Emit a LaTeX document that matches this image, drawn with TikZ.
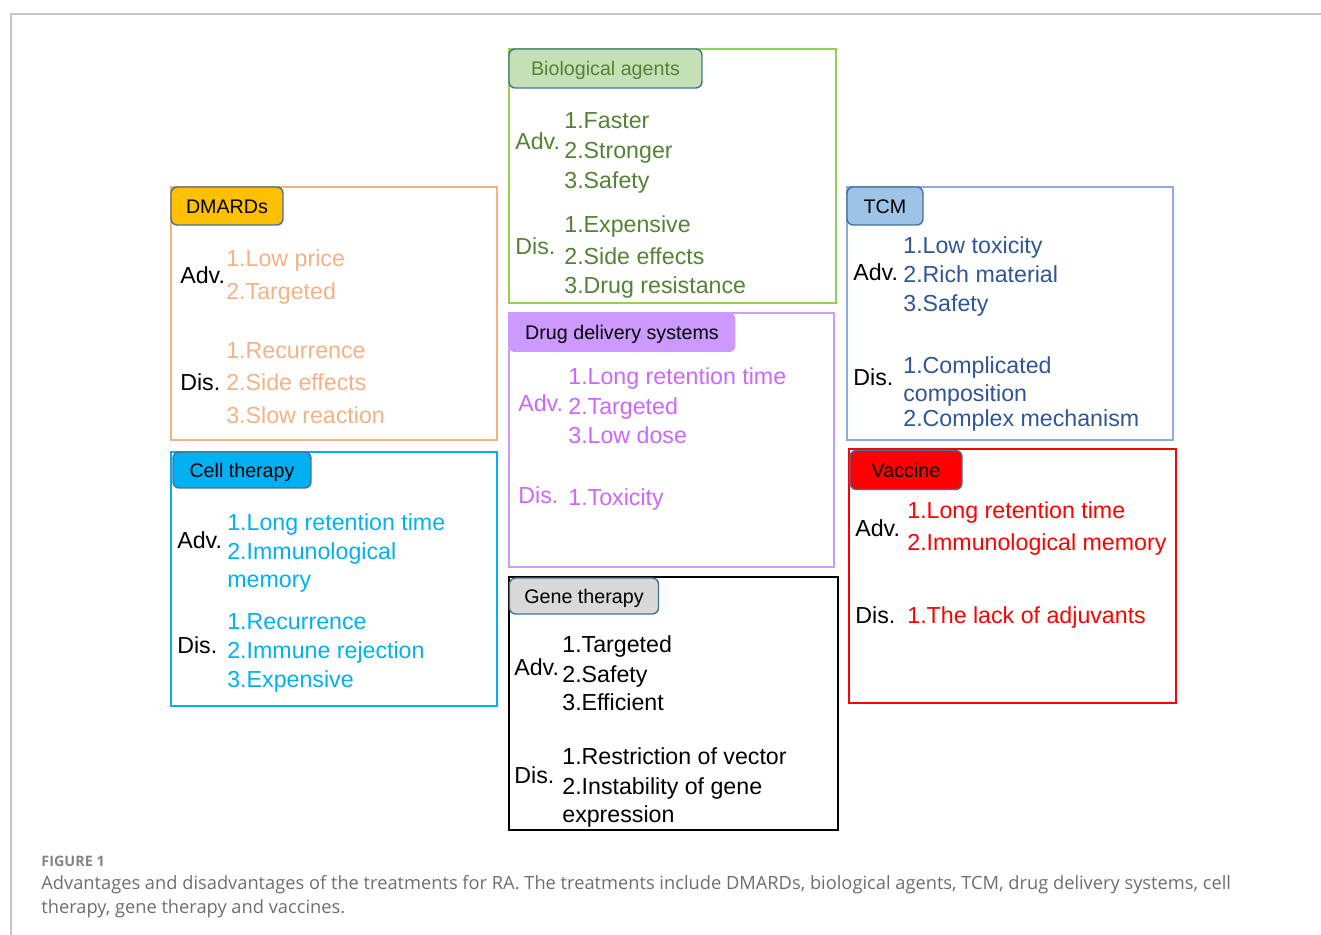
\documentclass[tikz,border=0pt]{standalone}
\usepackage{fontspec}
\setmainfont{Liberation Sans}
\newfontfamily\capfont{Open Sans}
\usetikzlibrary{positioning}
\definecolor{dmardcol}{HTML}{F4B183}
\definecolor{dmardfill}{HTML}{FFC000}
\definecolor{cellcol}{HTML}{00B0F0}
\definecolor{bioline}{HTML}{92D050}
\definecolor{biotext}{HTML}{548235}
\definecolor{biofill}{HTML}{C5E0B4}
\definecolor{ddsline}{HTML}{CC99FF}
\definecolor{ddstext}{HTML}{CC66FF}
\definecolor{geneline}{HTML}{000000}
\definecolor{genefill}{HTML}{D9D9D9}
\definecolor{tcmline}{HTML}{8FAADC}
\definecolor{tcmtext}{HTML}{2F5597}
\definecolor{tcmfill}{HTML}{9DC3E6}
\definecolor{vaccol}{HTML}{FF0000}
\definecolor{tagline}{HTML}{41719C}
\definecolor{capgray}{HTML}{6E6E6E}
\tikzset{
box/.style={line width=1.1pt}, % outer frame of one treatment
tag/.style={draw=tagline, line width=0.8pt, rounded corners=3.5pt, inner sep=0pt,
  text height=8pt, text depth=0pt, font=\fontsize{11.2}{13}\selectfont}, % coloured title tab
lbl/.style={anchor=base west, inner sep=0pt, font=\fontsize{13.2}{15}\selectfont}, % Adv. / Dis.
item/.style={lbl}, % one numbered point
}

\begin{document}
\begin{tikzpicture}[x=0.02cm, y=-0.02cm]
        \useasboundingbox (0,0) rectangle (1321,935);
        \draw[gray!45, line width=0.9pt] (1321,14) -- (11,14) -- (11,935);

        % DMARDs
        \draw[box, dmardcol] (171,187) rectangle (497,440);
        \node[tag, fill=dmardfill, minimum width=2.24cm, minimum height=0.76cm] (dmards) at (227,206) {DMARDs};
        \node[lbl] (dmards-adv) at (180,284) {Adv.};
        \node[item, dmardcol] (dmards-a1) at (226,267) {1.Low price};
        \node[item, dmardcol] (dmards-a2) at (226,300) {2.Targeted};
        \node[lbl] (dmards-dis) at (180,391) {Dis.};
        \node[item, dmardcol] (dmards-d1) at (226,359) {1.Recurrence};
        \node[item, dmardcol] (dmards-d2) at (226,391) {2.Side effects};
        \node[item, dmardcol] (dmards-d3) at (226,424) {3.Slow reaction};

        % cell therapy
        \draw[box, cellcol] (171,452) rectangle (497,706);
        \node[tag, fill=cellcol, minimum width=2.76cm, minimum height=0.72cm] (cell) at (242,470) {Cell therapy};
        \node[lbl] (cell-adv) at (177,548) {Adv.};
        \node[item, cellcol] (cell-a1) at (227,530) {1.Long retention time};
        \node[item, cellcol] (cell-a2) at (227,559) {2.Immunological};
        \node[item, cellcol] (cell-a2b) at (227,587) {memory};
        \node[lbl] (cell-dis) at (177,653) {Dis.};
        \node[item, cellcol] (cell-d1) at (227,629) {1.Recurrence};
        \node[item, cellcol] (cell-d2) at (227,658) {2.Immune rejection};
        \node[item, cellcol] (cell-d3) at (227,687) {3.Expensive};

        % biological agents
        \draw[box, bioline] (509,49) rectangle (836,303);
        \node[tag, fill=biofill, text=biotext, minimum width=3.86cm, minimum height=0.78cm] (bio) at (605.5,68.5) {Biological agents};
        \node[lbl, biotext] (bio-adv) at (515,150) {Adv.};
        \node[item, biotext] (bio-a1) at (564,129) {1.Faster};
        \node[item, biotext] (bio-a2) at (564,159) {2.Stronger};
        \node[item, biotext] (bio-a3) at (564,189) {3.Safety};
        \node[lbl, biotext] (bio-dis) at (515,255) {Dis.};
        \node[item, biotext] (bio-d1) at (564,233) {1.Expensive};
        \node[item, biotext] (bio-d2) at (564,265) {2.Side effects};
        \node[item, biotext] (bio-d3) at (564,294) {3.Drug resistance};

        % drug delivery systems
        \draw[box, ddsline] (509,313) rectangle (834,567);
        \node[tag, draw=none, fill=ddsline, minimum width=4.54cm, minimum height=0.78cm] (dds) at (622,332.5) {Drug delivery systems};
        \node[lbl, ddstext] (dds-adv) at (518,412) {Adv.};
        \node[item, ddstext] (dds-a1) at (568,385) {1.Long retention time};
        \node[item, ddstext] (dds-a2) at (568,415) {2.Targeted};
        \node[item, ddstext] (dds-a3) at (568,443) {3.Low dose};
        \node[lbl, ddstext] (dds-dis) at (518,503) {Dis.};
        \node[item, ddstext] (dds-d1) at (568,505) {1.Toxicity};

        % gene therapy
        \draw[box, geneline] (509,577) rectangle (838,830);
        \node[tag, fill=genefill, minimum width=2.98cm, minimum height=0.72cm] (gene) at (584,596) {Gene therapy};
        \node[lbl] (gene-adv) at (514,675) {Adv.};
        \node[item] (gene-a1) at (562,652) {1.Targeted};
        \node[item] (gene-a2) at (562,682) {2.Safety};
        \node[item] (gene-a3) at (562,710) {3.Efficient};
        \node[lbl] (gene-dis) at (514,783) {Dis.};
        \node[item] (gene-d1) at (562,764) {1.Restriction of vector};
        \node[item] (gene-d2) at (562,794) {2.Instability of gene};
        \node[item] (gene-d2b) at (562,822) {expression};

        % TCM
        \draw[box, tcmline] (847,187) rectangle (1173,440);
        \node[tag, fill=tcmfill, minimum width=1.52cm, minimum height=0.76cm] (tcm) at (885,206) {TCM};
        \node[lbl] (tcm-adv) at (853,281) {Adv.};
        \node[item, tcmtext] (tcm-a1) at (903,254) {1.Low toxicity};
        \node[item, tcmtext] (tcm-a2) at (903,283) {2.Rich material};
        \node[item, tcmtext] (tcm-a3) at (903,312) {3.Safety};
        \node[lbl] (tcm-dis) at (853,386) {Dis.};
        \node[item, tcmtext] (tcm-d1) at (903,374) {1.Complicated};
        \node[item, tcmtext] (tcm-d1b) at (903,402) {composition};
        \node[item, tcmtext] (tcm-d2) at (903,427) {2.Complex mechanism};

        % vaccine
        \draw[box, vaccol] (849,449) rectangle (1176,703);
        \node[tag, fill=vaccol, minimum width=2.24cm, minimum height=0.78cm] (vac) at (906,470) {Vaccine};
        \node[lbl] (vac-adv) at (855,536) {Adv.};
        \node[item, vaccol] (vac-a1) at (907,518) {1.Long retention time};
        \node[item, vaccol] (vac-a2) at (907,550) {2.Immunological memory};
        \node[lbl] (vac-dis) at (855,623) {Dis.};
        \node[item, vaccol] (vac-d1) at (907,623) {1.The lack of adjuvants};

        % caption
        \node[anchor=base west, inner sep=0pt, text=capgray!85, font=\capfont\bfseries\fontsize{8.2}{9}\selectfont] (fig) at (41,866) {FIGURE 1};
        \node[anchor=base west, inner sep=0pt, align=left, text=capgray, font=\capfont\fontsize{10.4}{13.6}\selectfont] (caption) at (41,913)
          {Advantages and disadvantages of the treatments for RA. The treatments include DMARDs, biological agents, TCM, drug delivery systems, cell\\therapy, gene therapy and vaccines.};
    \end{tikzpicture}
\end{document}
